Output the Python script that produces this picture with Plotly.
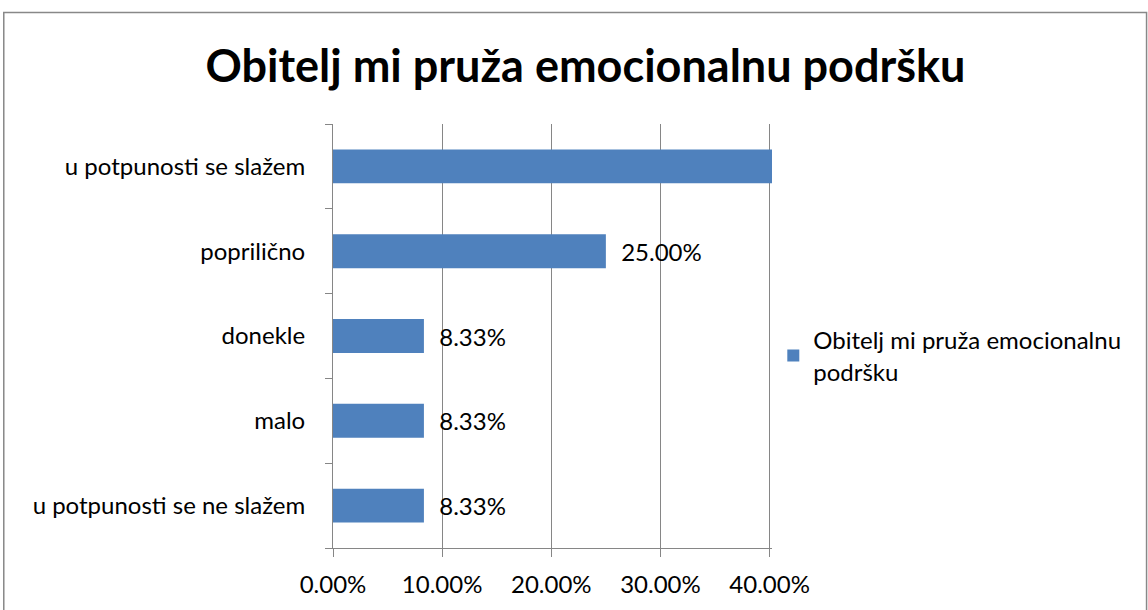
import plotly.graph_objects as go

# Podaci (odozdo prema gore)
kategorije = [
    "u potpunosti se ne slažem",
    "malo",
    "donekle",
    "popriličnо".replace("о", "o"),
    "u potpunosti se slažem",
]
postotci = [8.33, 8.33, 8.33, 25.00, 50.00]
x_ticks = [0, 10, 20, 30, 40]
x_tick_labels = ["0.00%", "10.00%", "20.00%", "30.00%", "40.00%"]
naziv_serije = "Obitelj mi pruža emocionalnu<br>podršku"

X_MAX = 40.22
BAR_COLOR = "#4F81BD"
GRID_COLOR = "#868686"
FONT = "Lato"
FS = 24

W, H = 1148, 610
L, T, R_PX, B_PX = 333, 124, 771.7, 550
pw, ph = R_PX - L, B_PX - T

# oznaka se ne vidi za stupac koji prelazi os
tekst = ["\u00a0\u00a0" + f"{v:.2f}%" if v <= 40 else "" for v in postotci]

fig = go.Figure()
fig.add_trace(
    go.Bar(
        x=postotci,
        y=kategorije,
        orientation="h",
        name=naziv_serije,
        marker=dict(color=BAR_COLOR, line=dict(width=0)),
        text=tekst,
        textposition="outside",
        textfont=dict(size=FS, color="black", family=FONT),
        cliponaxis=True,
        showlegend=True,
    )
)

# okvir grafikona
fig.add_shape(
    type="rect",
    xref="paper",
    yref="paper",
    x0=(4 - L) / pw,
    x1=(1146 - L) / pw,
    y0=(B_PX - 615) / ph,
    y1=(B_PX - 12) / ph,
    line=dict(color="#888888", width=1.5),
    fillcolor="rgba(0,0,0,0)",
    layer="below",
)

fig.update_layout(
    width=W,
    height=H,
    margin=dict(l=L, r=W - R_PX, t=T, b=H - B_PX),
    paper_bgcolor="white",
    plot_bgcolor="white",
    font=dict(family=FONT, size=FS, color="black"),
    title=dict(
        text="<b>Obitelj mi pruža emocionalnu podršku</b>",
        x=0.51,
        xref="container",
        xanchor="center",
        y=1 - 66 / H,
        yref="container",
        yanchor="middle",
        font=dict(size=45, family=FONT, color="black"),
    ),
    bargap=0.6,
    legend=dict(
        x=(773 - L) / pw,
        y=(B_PX - 357) / ph,
        xanchor="left",
        yanchor="middle",
        font=dict(size=FS, family=FONT),
        bgcolor="rgba(0,0,0,0)",
    ),
)

fig.update_xaxes(
    range=[0, X_MAX],
    tickvals=x_ticks,
    ticktext=x_tick_labels,
    showgrid=True,
    gridcolor=GRID_COLOR,
    gridwidth=1,
    showline=True,
    linecolor=GRID_COLOR,
    linewidth=1,
    ticks="outside",
    ticklen=8,
    tickcolor=GRID_COLOR,
    ticklabelstandoff=7,
    zeroline=False,
    tickfont=dict(size=FS),
)
fig.update_yaxes(
    showline=True,
    linecolor=GRID_COLOR,
    linewidth=1,
    ticks="outside",
    tickson="boundaries",
    ticklen=7,
    tickcolor=GRID_COLOR,
    ticklabelstandoff=22,
    showgrid=False,
    tickfont=dict(size=FS),
)

fig.write_html(
    "out.html",
    config={"displayModeBar": False},
    post_script="document.body.style.margin='0';",
)
